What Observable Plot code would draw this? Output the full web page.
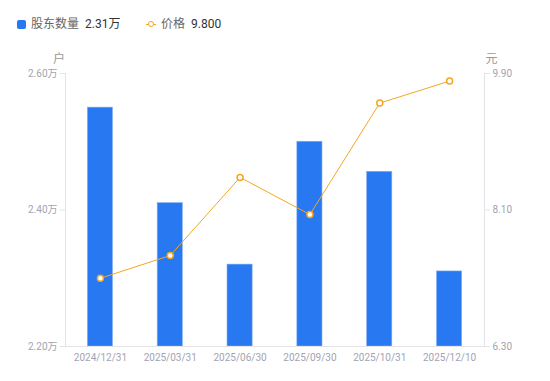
<!DOCTYPE html>
<html><head><meta charset="utf-8">
<script src="https://cdn.jsdelivr.net/npm/d3@7"></script>
<script src="https://cdn.jsdelivr.net/npm/@observablehq/plot@0.6"></script>
<style>
body{margin:0;background:#fff;font-family:Roboto,"Noto Sans CJK SC",sans-serif;}
#wrap{width:550px;height:381px;position:relative;overflow:hidden;}
#legend{position:relative;height:45px;font-size:12px;}
#legend span{position:absolute;top:16px;line-height:16px;white-space:nowrap;}
.sq{display:block;position:absolute;left:17px;top:20px;width:9px;height:9px;border-radius:2px;background:#2878f2;}
.ln{position:absolute;left:146px;top:24px;width:10px;height:1px;background:#f5a623;}
.cr{position:absolute;left:148px;top:21px;width:4px;height:4px;border:1.5px solid #f5a623;border-radius:50%;background:#fff;}
</style></head><body><div id="wrap"><div id="legend"></div><div id="chart"></div></div><script>
const dates = ["2024/12/31","2025/03/31","2025/06/30","2025/09/30","2025/10/31","2025/12/10"];
const holders = [2.55, 2.41, 2.32, 2.50, 2.456, 2.31];   // 万户
const prices = [7.20, 7.50, 8.53, 8.04, 9.51, 9.80];     // 元
const leftTicks = [2.20, 2.40, 2.60];
const rightTicks = [6.30, 8.10, 9.90];
const seriesNames = ["股东数量", "价格"];
const legendValues = ["2.31万", "9.800"];
const units = ["户", "元"];

const blue = "#2878f2", orange = "#f5a623", axisColor = "#e4e4e8", textColor = "#a2a3b1";

// legend (HTML above the SVG)
const lg = document.getElementById("legend");
lg.innerHTML = `<i class="sq"></i>
<span style="left:31px;color:#666">${seriesNames[0]}</span>
<span style="left:85px;color:#333">${legendValues[0]}</span>
<i class="ln"></i><i class="cr"></i>
<span style="left:161px;color:#666">${seriesNames[1]}</span>
<span style="left:191px;color:#333">${legendValues[1]}</span>`;

const toY = d3.scaleLinear([rightTicks[0], rightTicks[rightTicks.length-1]], [leftTicks[0], leftTicks[leftTicks.length-1]]);
const data = dates.map((d, i) => ({date: d, holders: holders[i], price: toY(prices[i])}));

const chart = Plot.plot({
  width: 550, height: 336,
  marginTop: 28, marginBottom: 35, marginLeft: 65, marginRight: 66,
  style: {fontFamily: 'Roboto,"Noto Sans CJK SC",sans-serif', fontSize: "10px", background: "#fff"},
  x: {domain: dates, paddingInner: 0.64, paddingOuter: 0.32, round: false},
  y: {domain: [leftTicks[0], leftTicks[leftTicks.length-1]]},
  marks: [
    Plot.barY(data, {x: "date", y1: leftTicks[0], y2: "holders", fill: blue, stroke: "#7fb0f7", strokeWidth: 0.6}),
    Plot.frame({anchor: "left", stroke: axisColor}),
    Plot.frame({anchor: "right", stroke: axisColor}),
    Plot.frame({anchor: "bottom", stroke: axisColor}),
    Plot.axisY({anchor: "left", ticks: leftTicks, tickFormat: d => d.toFixed(2) + "万", tickSize: 5, tickPadding: 3, stroke: axisColor, fill: textColor, label: null}),
    Plot.axisY({anchor: "right", ticks: rightTicks.map(toY), tickFormat: d => toY.invert(d).toFixed(2), tickSize: 5, tickPadding: 3, stroke: axisColor, fill: textColor, label: null}),
    Plot.axisX({anchor: "bottom", tickSize: 0, tickPadding: 7, fill: textColor, label: null}),
    Plot.line(data, {x: "date", y: "price", stroke: orange, strokeWidth: 1}),
    Plot.dot(data, {x: "date", y: "price", r: 3, fill: "#fff", stroke: orange, strokeWidth: 1.5}),
    Plot.text([units[0]], {text: d => d, frameAnchor: "top-left", dx: -6.5, dy: -19, textAnchor: "middle", fontSize: 12, fill: "#999"}),
    Plot.text([units[1]], {text: d => d, frameAnchor: "top-right", dx: 1, dy: -19, textAnchor: "start", fontSize: 12, fill: "#999"})
  ]
});
document.getElementById("chart").appendChild(chart);
</script></body></html>
